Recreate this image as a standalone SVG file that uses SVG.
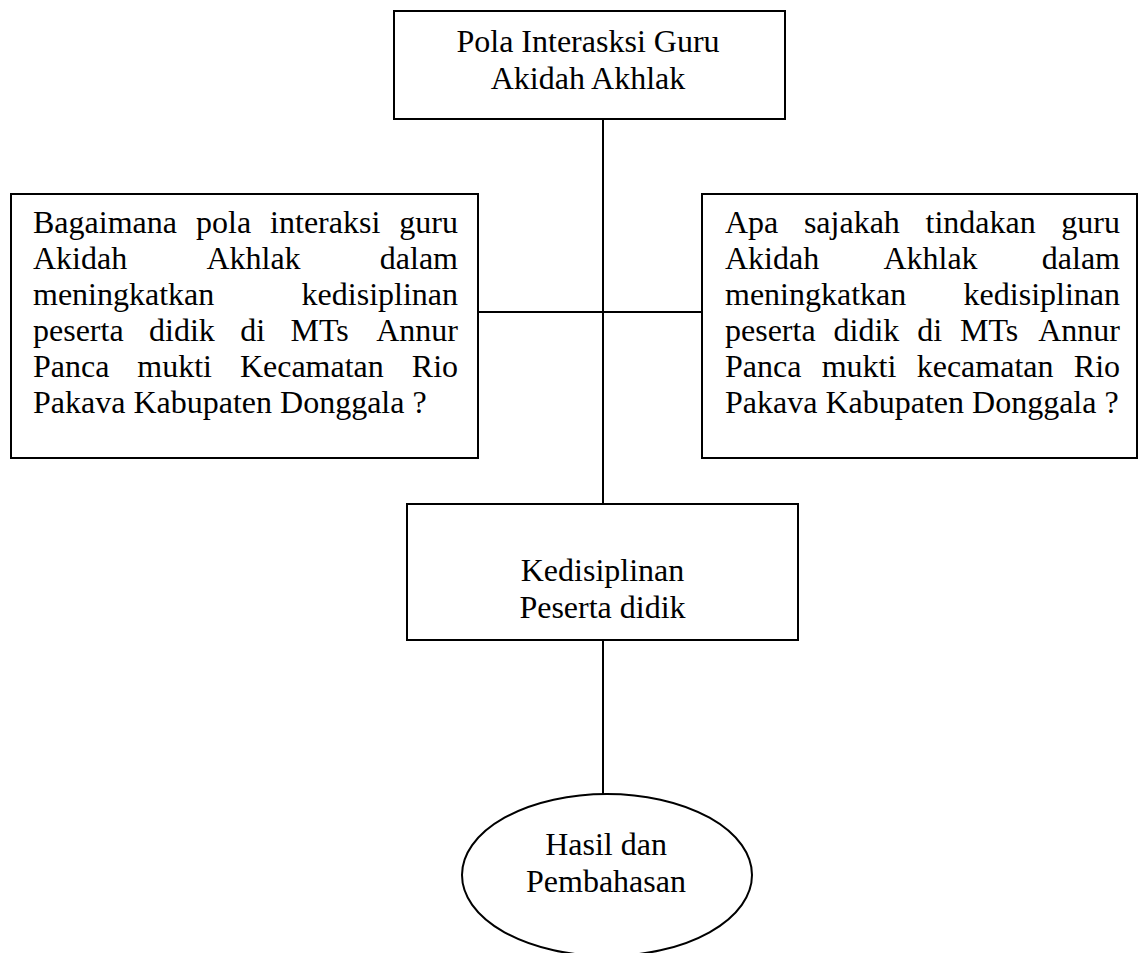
<svg xmlns="http://www.w3.org/2000/svg" width="1141" height="953" viewBox="0 0 1141 953">
<style>
.box{fill:#fff;stroke:#000;stroke-width:2}
.ln{stroke:#000;stroke-width:2;fill:none}
text{font-family:"Liberation Serif","Times New Roman",serif;font-size:32px;fill:#000}
.c{text-anchor:middle}
</style>
<rect width="1141" height="953" fill="#fff"/>
<g id="connectors">
<line class="ln" x1="603" y1="119" x2="603" y2="504"/>
<line class="ln" x1="478" y1="312" x2="702" y2="312"/>
<line class="ln" x1="603" y1="640" x2="603" y2="794"/>
</g>
<g id="node-top">
<rect class="box" x="394" y="11" width="391" height="108"/>
<text class="c" x="588" y="52">Pola Interasksi Guru</text>
<text class="c" x="588" y="89">Akidah Akhlak</text>
</g>
<g id="node-left">
<rect class="box" x="11" y="194" width="467" height="264"/>
<text y="233"><tspan x="33">Bagaimana</tspan><tspan x="196">pola</tspan><tspan x="270.1">interaksi</tspan><tspan x="399.3">guru</tspan></text>
<text y="269"><tspan x="33">Akidah</tspan><tspan x="206.4">Akhlak</tspan><tspan x="379.8">dalam</tspan></text>
<text y="305"><tspan x="33">meningkatkan</tspan><tspan x="301.6">kedisiplinan</tspan></text>
<text y="341"><tspan x="33">peserta</tspan><tspan x="149">didik</tspan><tspan x="240.2">di</tspan><tspan x="290.5">MTs</tspan><tspan x="376.2">Annur</tspan></text>
<text y="377"><tspan x="33">Panca</tspan><tspan x="137.3">mukti</tspan><tspan x="239.9">Kecamatan</tspan><tspan x="411.8">Rio</tspan></text>
<text x="33" y="413">Pakava Kabupaten Donggala ?</text>
</g>
<g id="node-right">
<rect class="box" x="702" y="194" width="435" height="264"/>
<text y="233"><tspan x="725">Apa</tspan><tspan x="803.9">sajakah</tspan><tspan x="925.5">tindakan</tspan><tspan x="1061.3">guru</tspan></text>
<text y="269"><tspan x="725">Akidah</tspan><tspan x="883.4">Akhlak</tspan><tspan x="1041.8">dalam</tspan></text>
<text y="305"><tspan x="725">meningkatkan</tspan><tspan x="963.6">kedisiplinan</tspan></text>
<text y="341"><tspan x="725">peserta</tspan><tspan x="833.5">didik</tspan><tspan x="917.2">di</tspan><tspan x="960">MTs</tspan><tspan x="1038.2">Annur</tspan></text>
<text y="377"><tspan x="725">Panca</tspan><tspan x="821.7">mukti</tspan><tspan x="916.7">kecamatan</tspan><tspan x="1073.8">Rio</tspan></text>
<text x="725" y="413">Pakava Kabupaten Donggala ?</text>
</g>
<g id="node-middle">
<rect class="box" x="407" y="504" width="391" height="136"/>
<text class="c" x="602.5" y="581">Kedisiplinan</text>
<text class="c" x="602.5" y="618">Peserta didik</text>
</g>
<g id="node-result">
<ellipse class="box" cx="607" cy="875" rx="145" ry="81"/>
<text class="c" x="606" y="855">Hasil dan</text>
<text class="c" x="606" y="892">Pembahasan</text>
</g>
</svg>
